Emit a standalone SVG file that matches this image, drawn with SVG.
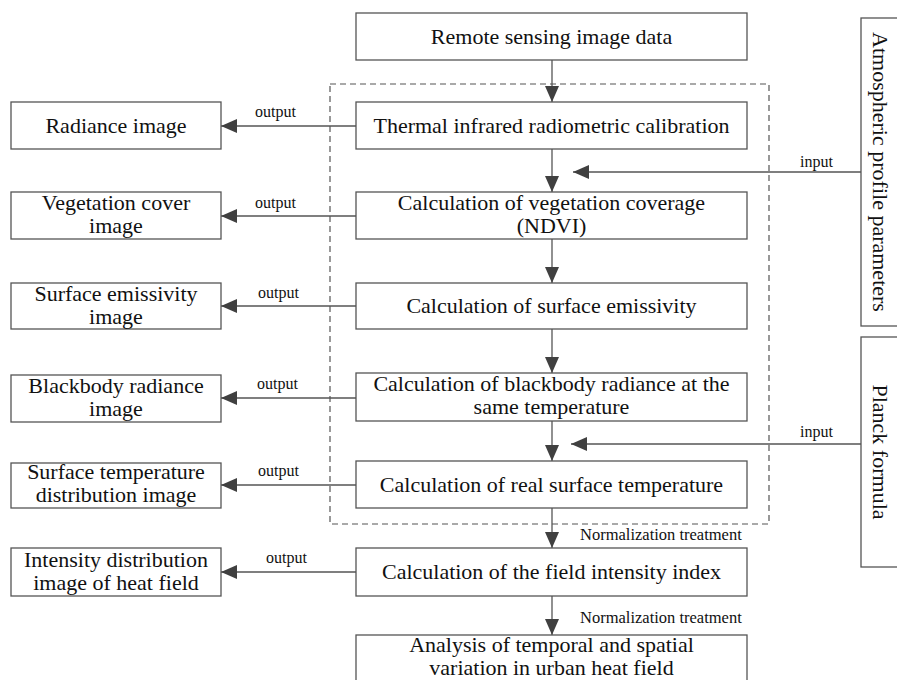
<svg xmlns="http://www.w3.org/2000/svg" width="897" height="680" viewBox="0 0 897 680">
<style>
.box{fill:#fff;stroke:#555;stroke-width:1.3}
.t{font-family:"Liberation Serif","Times New Roman",serif;font-size:22px;fill:#111;text-anchor:middle}
.s{font-family:"Liberation Serif","Times New Roman",serif;font-size:16px;fill:#111}
.ln{stroke:#555;stroke-width:1.3;fill:none}
.dash{stroke:#555;stroke-width:1.2;fill:none;stroke-dasharray:6,4}
</style>
<defs>
<marker id="ah" viewBox="0 0 16 14" refX="16" refY="7" markerWidth="16" markerHeight="14" orient="auto" markerUnits="userSpaceOnUse"><path d="M0,0 L16,7 L0,14 Z" fill="#404040"/></marker>
</defs>
<rect width="897" height="680" fill="#fff"/>
<rect class="dash" x="330" y="84" width="439" height="440"/>
<g id="connectors">
<line class="ln" x1="552" y1="60" x2="552" y2="102" marker-end="url(#ah)"/>
<line class="ln" x1="552" y1="149" x2="552" y2="192" marker-end="url(#ah)"/>
<line class="ln" x1="552" y1="239" x2="552" y2="283" marker-end="url(#ah)"/>
<line class="ln" x1="552" y1="329" x2="552" y2="373" marker-end="url(#ah)"/>
<line class="ln" x1="552" y1="421" x2="552" y2="461" marker-end="url(#ah)"/>
<line class="ln" x1="552" y1="508" x2="552" y2="548" marker-end="url(#ah)"/>
<line class="ln" x1="552" y1="596" x2="552" y2="635" marker-end="url(#ah)"/>
<line class="ln" x1="861" y1="172" x2="573" y2="172" marker-end="url(#ah)"/>
<line class="ln" x1="861" y1="444" x2="571" y2="444" marker-end="url(#ah)"/>
<line class="ln" x1="356" y1="126" x2="221" y2="126" marker-end="url(#ah)"/>
<line class="ln" x1="356" y1="216" x2="221" y2="216" marker-end="url(#ah)"/>
<line class="ln" x1="356" y1="306" x2="221" y2="306" marker-end="url(#ah)"/>
<line class="ln" x1="356" y1="398" x2="221" y2="398" marker-end="url(#ah)"/>
<line class="ln" x1="356" y1="485" x2="221" y2="485" marker-end="url(#ah)"/>
<line class="ln" x1="356" y1="572" x2="221" y2="572" marker-end="url(#ah)"/>
<text class="s" x="255" y="117">output</text>
<text class="s" x="255" y="208">output</text>
<text class="s" x="258" y="298">output</text>
<text class="s" x="257" y="389">output</text>
<text class="s" x="258" y="476">output</text>
<text class="s" x="266" y="563">output</text>
<text class="s" x="800" y="167">input</text>
<text class="s" x="800" y="437">input</text>
<text class="s" x="580" y="540" style="font-size:16.5px">Normalization treatment</text>
<text class="s" x="580" y="623" style="font-size:16.5px">Normalization treatment</text>
</g>
<g id="remote"><rect class="box" x="356" y="13" width="391" height="47"/><text class="t" x="551.5" y="44">Remote sensing image data</text></g>
<g id="thermal"><rect class="box" x="356" y="102" width="391" height="47"/><text class="t" x="551.5" y="133">Thermal infrared radiometric calibration</text></g>
<g id="ndvi"><rect class="box" x="356" y="192" width="391" height="47"/><text class="t" x="551.5" y="210">Calculation of vegetation coverage</text><text class="t" x="551.5" y="233">(NDVI)</text></g>
<g id="emis"><rect class="box" x="356" y="283" width="391" height="46"/><text class="t" x="551.5" y="313">Calculation of surface emissivity</text></g>
<g id="blackbody"><rect class="box" x="356" y="373" width="391" height="48"/><text class="t" x="551.5" y="391">Calculation of blackbody radiance at the</text><text class="t" x="551.5" y="414">same temperature</text></g>
<g id="realtemp"><rect class="box" x="356" y="461" width="391" height="47"/><text class="t" x="551.5" y="492">Calculation of real surface temperature</text></g>
<g id="field"><rect class="box" x="356" y="548" width="391" height="48"/><text class="t" x="551.5" y="579">Calculation of the field intensity index</text></g>
<g id="analysis"><rect class="box" x="356" y="635" width="391" height="50"/><text class="t" x="551.5" y="652">Analysis of temporal and spatial</text><text class="t" x="551.5" y="675">variation in urban heat field</text></g>
<g id="radiance"><rect class="box" x="11" y="102" width="210" height="47"/><text class="t" x="116" y="133">Radiance image</text></g>
<g id="vegimg"><rect class="box" x="11" y="192" width="210" height="47"/><text class="t" x="116" y="210">Vegetation cover</text><text class="t" x="116" y="233">image</text></g>
<g id="emisimg"><rect class="box" x="11" y="283" width="210" height="46"/><text class="t" x="116" y="301">Surface emissivity</text><text class="t" x="116" y="324">image</text></g>
<g id="bbimg"><rect class="box" x="11" y="375" width="210" height="47"/><text class="t" x="116" y="393">Blackbody radiance</text><text class="t" x="116" y="416">image</text></g>
<g id="tempimg"><rect class="box" x="11" y="463" width="210" height="45"/><text class="t" x="116" y="479">Surface temperature</text><text class="t" x="116" y="502">distribution image</text></g>
<g id="intimg"><rect class="box" x="11" y="548" width="210" height="48"/><text class="t" x="116" y="567">Intensity distribution</text><text class="t" x="116" y="590">image of heat field</text></g>
<g id="atmos"><rect class="box" x="861" y="18" width="50" height="308"/><text class="t" transform="translate(873,172) rotate(90)">Atmospheric profile parameters</text></g>
<g id="planck"><rect class="box" x="861" y="337" width="50" height="230"/><text class="t" transform="translate(873,452) rotate(90)">Planck formula</text></g>
</svg>
